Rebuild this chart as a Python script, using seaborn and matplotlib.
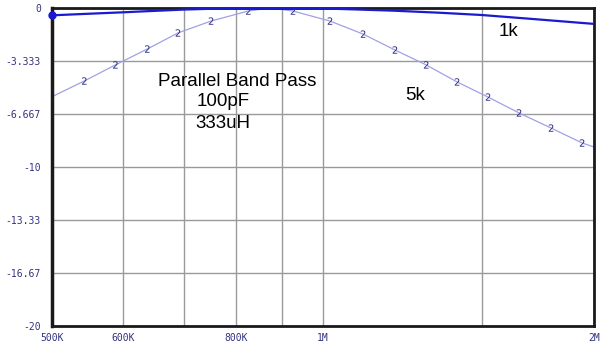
import matplotlib
matplotlib.use("Agg")
import matplotlib.pyplot as plt
import seaborn as sns
import pandas as pd
import numpy as np

# ---- data ----
freq_1k = [500e3, 550e3, 600e3, 650e3, 700e3, 760e3, 830e3, 873e3, 930e3,
           1000e3, 1100e3, 1200e3, 1350e3, 1500e3, 1700e3, 2000e3]
db_1k = [-0.46, -0.36, -0.27, -0.18, -0.10, -0.04, -0.01, 0.0, -0.01,
         -0.03, -0.10, -0.17, -0.30, -0.44, -0.68, -1.0]

freq_5k = [500e3, 543e3, 588e3, 638e3, 690e3, 751e3, 826e3, 873e3, 926e3,
           1018e3, 1108e3, 1202e3, 1302e3, 1409e3, 1525e3, 1651e3, 1792e3,
           1940e3, 2000e3]
db_5k = [-5.58, -4.59, -3.58, -2.58, -1.57, -0.82, -0.19, 0.0, -0.19,
         -0.82, -1.64, -2.64, -3.58, -4.65, -5.60, -6.60, -7.55, -8.49, -8.74]
mark_5k = [False, True, True, True, True, True, True, False, True,
           True, True, True, True, True, True, True, True, True, False]

xtick_vals = [500e3, 600e3, 800e3, 1e6, 2e6]
xtick_labels = ["500K", "600K", "800K", "1M", "2M"]
xgrid_minor = [700e3, 900e3, 1.5e6]
ytick_vals = [0, -3.333, -6.667, -10, -13.33, -16.67, -20]
ytick_labels = ["0", "-3.333", "-6.667", "-10", "-13.33", "-16.67", "-20"]

df1 = pd.DataFrame({"f": freq_1k, "db": db_1k})
df5 = pd.DataFrame({"f": freq_5k, "db": db_5k, "mark": mark_5k})

sns.set_theme(style="white")
plt.rcParams["font.family"] = ["Liberation Sans", "DejaVu Sans"]

fig = plt.figure(figsize=(6.0, 3.44), dpi=100)
ax = fig.add_axes([52 / 600, 18 / 344, 542 / 600, 318 / 344])

ax.set_xscale("log")
ax.set_xlim(500e3, 2e6)
ax.set_ylim(-20, 0)

ax.set_xticks(xtick_vals)
ax.set_xticklabels(xtick_labels)
ax.set_xticks(xgrid_minor, minor=True)
ax.set_xticklabels([], minor=True)
ax.set_yticks(ytick_vals)
ax.set_yticklabels(ytick_labels)
ax.grid(True, which="both", color="#9a9a9a", linewidth=1.0)
ax.set_axisbelow(True)

tick_color = "#333380"
ax.tick_params(axis="both", which="both", length=0, labelsize=7,
               labelcolor=tick_color)
ax.tick_params(axis="y", pad=8)
ax.tick_params(axis="x", pad=5)
for lab in ax.get_xticklabels() + ax.get_yticklabels():
    lab.set_family("DejaVu Sans Mono")

for side, lw in (("left", 2.5), ("bottom", 2.0), ("top", 2.0), ("right", 2.0)):
    ax.spines[side].set_visible(True)
    ax.spines[side].set_color("#1a1a1a")
    ax.spines[side].set_linewidth(lw)

# 5k curve (light) with "2" labels
sns.lineplot(data=df5, x="f", y="db", ax=ax, color="#a0a0e6", linewidth=0.9,
             sort=False, estimator=None)
sns.scatterplot(data=df5[df5["mark"]], x="f", y="db", ax=ax, marker="$2$",
                s=28, color="#2a2a80", edgecolor="none", linewidth=0, zorder=4)

# 1k curve (dark blue)
sns.lineplot(data=df1, x="f", y="db", ax=ax, color="#1a1ad0", linewidth=1.6,
             sort=False, estimator=None, zorder=5)
ax.plot(df1["f"].iloc[:1], df1["db"].iloc[:1], "o", color="#1a1ad0",
        markersize=5, zorder=6, clip_on=False)

ax.set_xlabel("")
ax.set_ylabel("")

fs = 13.5
fig.text(237.5 / 600, 1 - 82 / 344, "Parallel Band Pass", ha="center",
         va="center", fontsize=fs, color="black")
fig.text(223 / 600, 1 - 101 / 344, "100pF", ha="center", va="center",
         fontsize=fs, color="black")
fig.text(223 / 600, 1 - 123 / 344, "333uH", ha="center", va="center",
         fontsize=fs, color="black")
fig.text(508 / 600, 1 - 31 / 344, "1k", ha="center", va="center",
         fontsize=fs, color="black")
fig.text(415 / 600, 1 - 95 / 344, "5k", ha="center", va="center",
         fontsize=fs, color="black")

fig.savefig("out.png", dpi=100)
